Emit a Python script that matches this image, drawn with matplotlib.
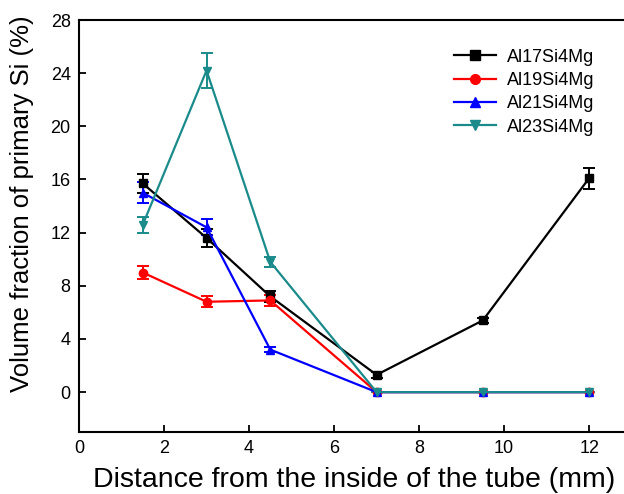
import matplotlib
matplotlib.use("Agg")
import matplotlib.pyplot as plt
from matplotlib.lines import Line2D

plt.rcParams['font.family'] = ['Liberation Sans', 'DejaVu Sans']

x_a = [1.5, 3, 4.5, 7, 9.5, 12]
al17 = [15.7, 11.6, 7.2, 1.3, 5.4, 16.1]
al17_err = [0.7, 0.7, 0.4, 0.2, 0.2, 0.8]
al19 = [9.0, 6.8, 6.9, 0, 0, 0]
al19_err = [0.5, 0.4, 0.4, 0, 0, 0]
al21 = [15.0, 12.4, 3.2, 0, 0, 0]
al21_err = [0.8, 0.6, 0.2, 0, 0, 0]
al23 = [12.6, 24.2, 9.8, 0, 0, 0]
al23_err = [0.6, 1.3, 0.4, 0, 0, 0]

series = [
    ("Al17Si4Mg", al17, al17_err, "black", "s"),
    ("Al19Si4Mg", al19, al19_err, "#ff0000", "o"),
    ("Al21Si4Mg", al21, al21_err, "#0000ff", "^"),
    ("Al23Si4Mg", al23, al23_err, "#1a8a8a", "v"),
]

fig = plt.figure(figsize=(6.24, 4.94), dpi=100)
ax = fig.add_axes([0.1266, 0.1255, 0.8734, 0.834])
handles = []
for name, y, e, c, m in series:
    ax.errorbar(x_a, y, yerr=e, color=c, marker=m, markersize=6, lw=1.6,
                capsize=4, capthick=1.4, elinewidth=1.4)
    handles.append(Line2D([], [], color=c, marker=m, markersize=7, lw=1.6, label=name))

ax.set_xlim(0, 12.82)
ax.set_ylim(-3, 28)
ax.set_xticks(range(0, 13, 2))
ax.set_yticks(range(0, 29, 4))
ax.tick_params(direction='in', labelsize=13, width=1.3, length=5, pad=6)
for s in ['left', 'bottom', 'top']:
    ax.spines[s].set_linewidth(1.5)
ax.spines['right'].set_visible(False)
ax.set_xlabel("Distance from the inside of the tube (mm)", fontsize=20.5)
ax.xaxis.set_label_coords(0.505, -0.085)
ax.set_ylabel("Volume fraction of primary Si (%)", fontsize=18.5)
ax.yaxis.set_label_coords(-0.082, 0.555)
ax.legend(handles=handles, loc='upper right', bbox_to_anchor=(0.975, 0.97), frameon=False,
          fontsize=13, handlelength=2.3, labelspacing=0.35, handletextpad=0.6)
fig.savefig("out.png", dpi=100)
